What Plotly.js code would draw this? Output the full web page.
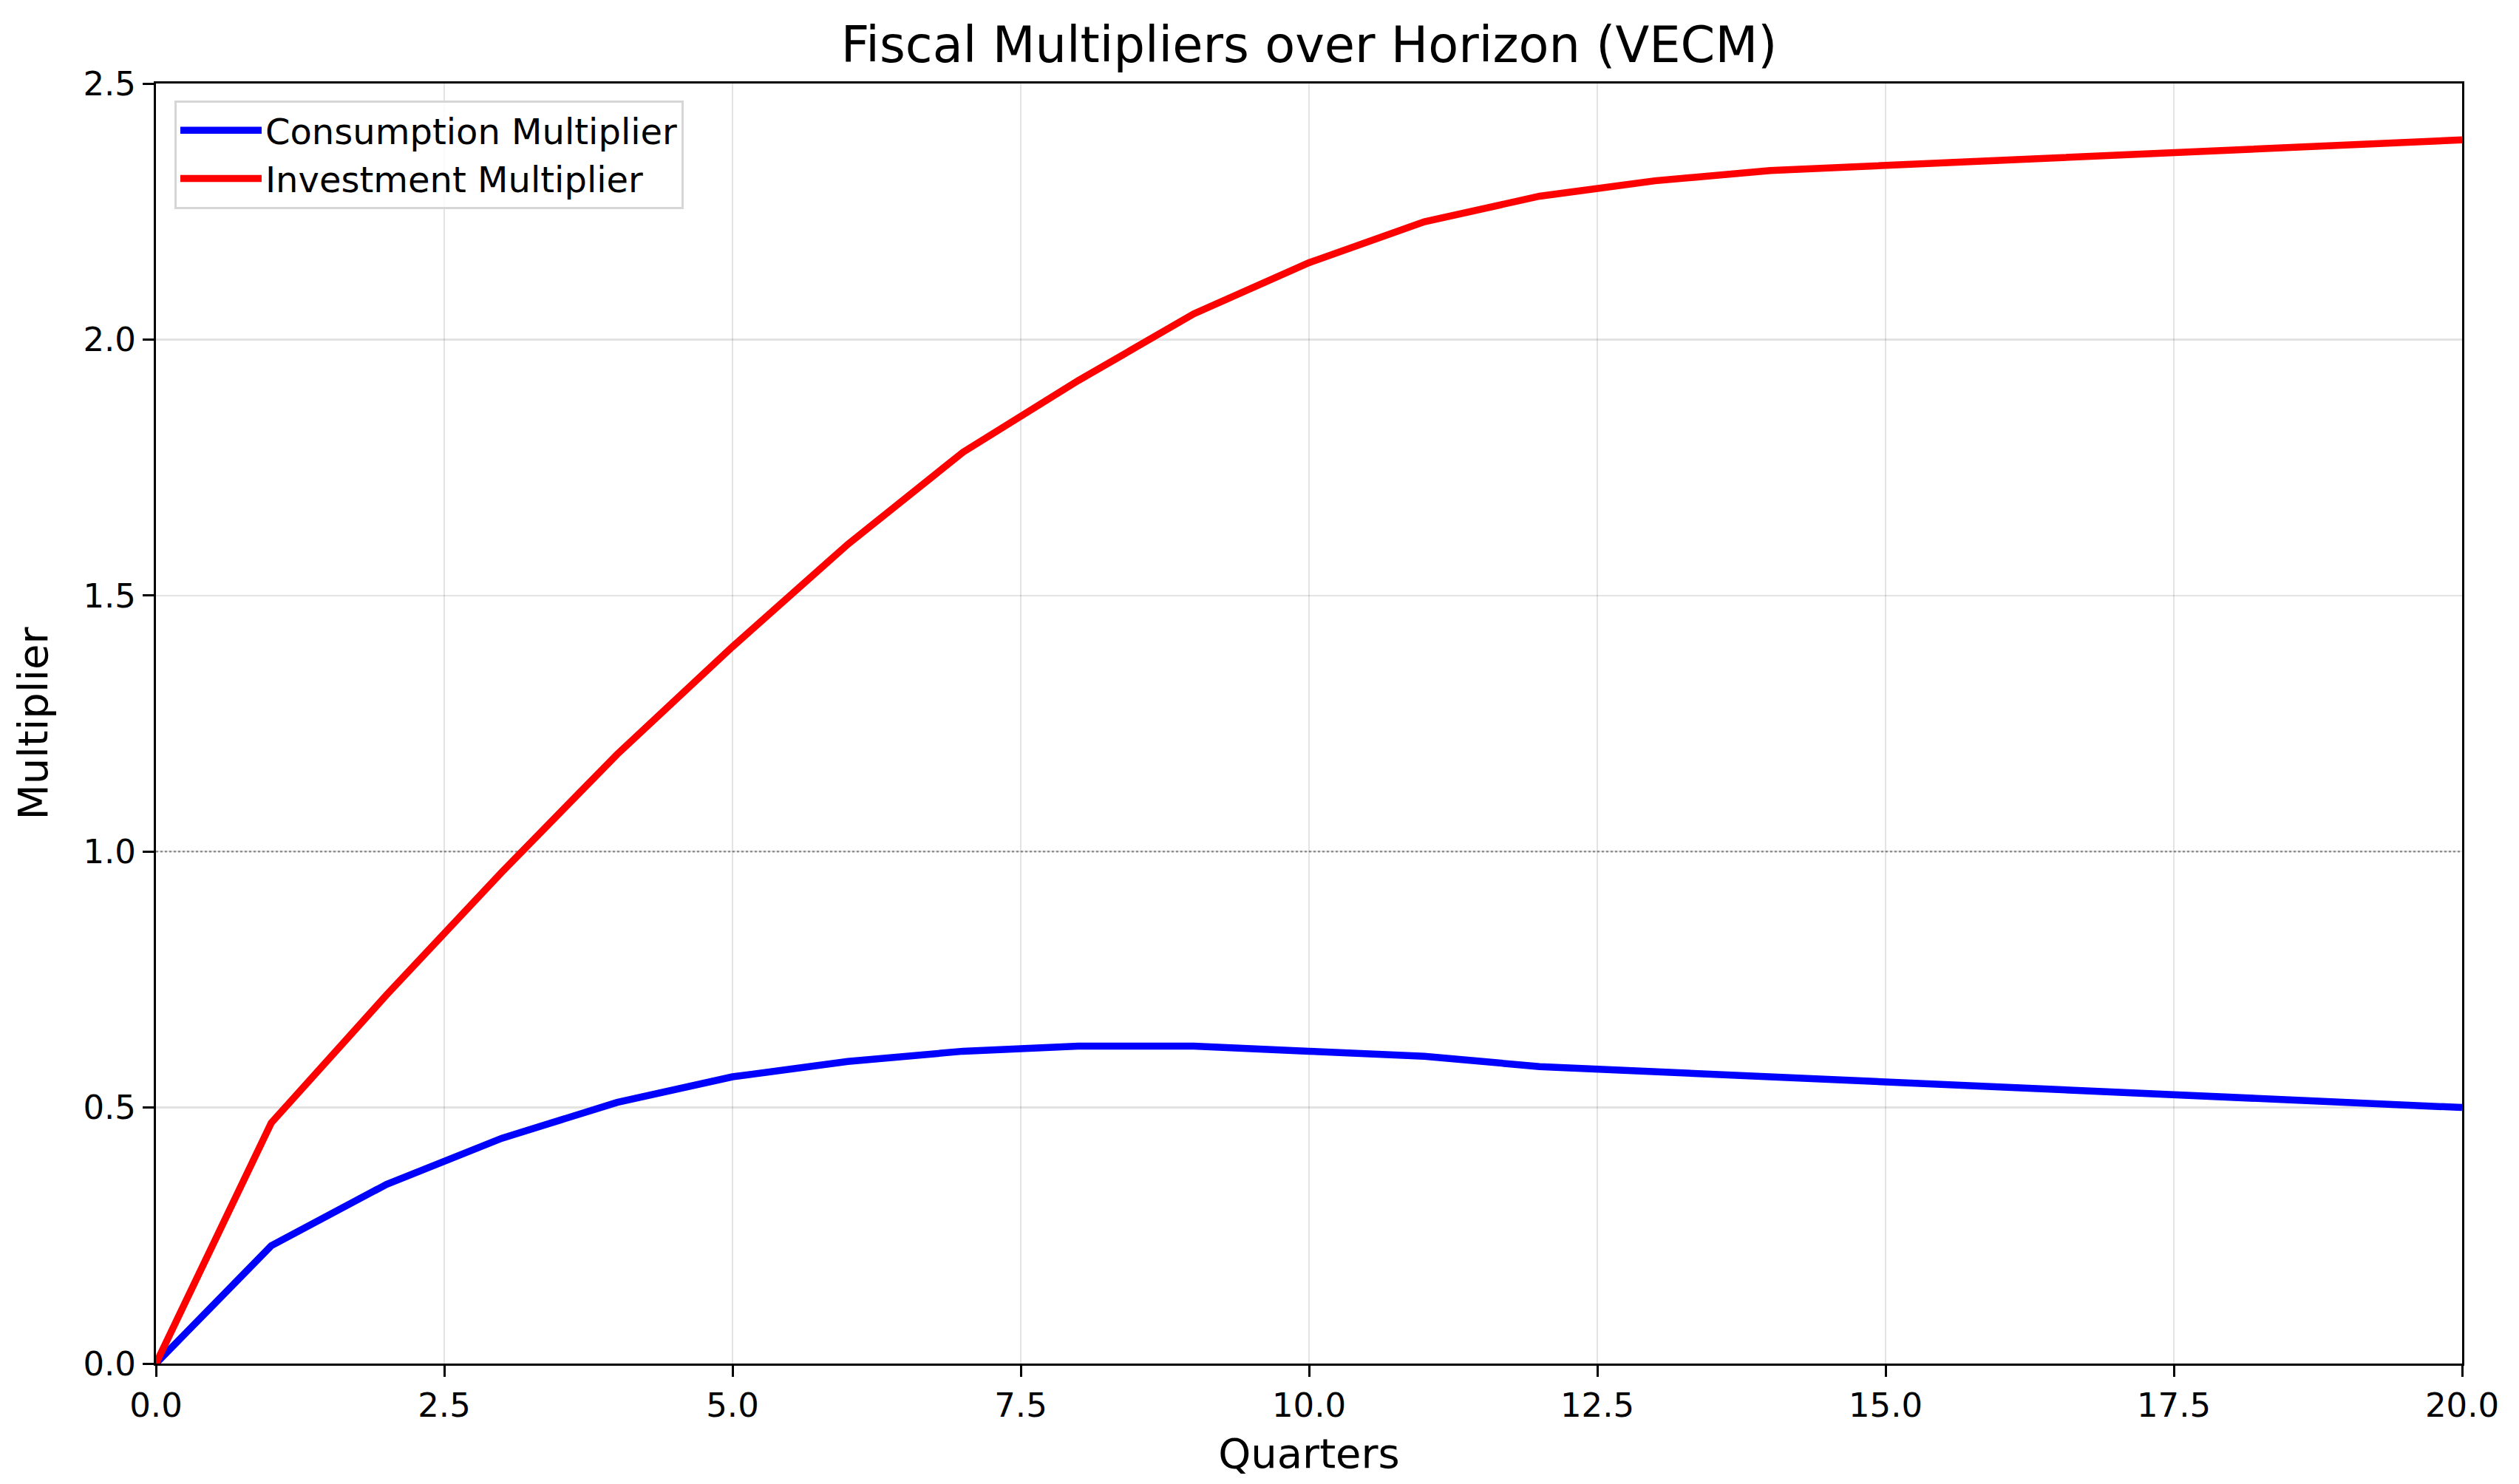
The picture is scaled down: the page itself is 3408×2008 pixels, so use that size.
<!DOCTYPE html>
<html>
<head>
<meta charset="utf-8">
<script src="https://cdn.plot.ly/plotly-3.0.1.min.js"></script>
<style>html,body{margin:0;padding:0;background:#fff;}</style>
</head>
<body>
<div id="chart" style="width:3408px;height:2008px;"></div>
<script>
const quarters = [0,1,2,3,4,5,6,7,8,9,10,11,12,13,14,15,16,17,18,19,20];
const consumptionMultiplier = [0.00,0.23,0.35,0.44,0.51,0.56,0.59,0.61,0.62,0.62,0.61,0.60,0.58,0.57,0.56,0.55,0.54,0.53,0.52,0.51,0.50];
const investmentMultiplier = [0.00,0.47,0.72,0.96,1.19,1.40,1.60,1.78,1.92,2.05,2.15,2.23,2.28,2.31,2.33,2.34,2.35,2.36,2.37,2.38,2.39];
const seriesNames = ["Consumption Multiplier", "Investment Multiplier"];
const referenceLevel = 1.0;

const FONT = "DejaVu Sans, Verdana, sans-serif";

const traces = [
  {x: quarters, y: consumptionMultiplier, name: seriesNames[0], type: "scatter", mode: "lines",
   line: {color: "#0000ff", width: 9.5}},
  {x: quarters, y: investmentMultiplier, name: seriesNames[1], type: "scatter", mode: "lines",
   line: {color: "#ff0000", width: 9.5}}
];

const axisCommon = {
  showline: true, mirror: true, linecolor: "#000", linewidth: 3,
  ticks: "outside", ticklen: 15, tickwidth: 3, tickcolor: "#000",
  showgrid: true, gridcolor: "rgba(0,0,0,0.11)", gridwidth: 2.5,
  zeroline: false, tickfont: {family: FONT, size: 45, color: "#000"},
  tickformat: ".1f"
};

const layout = {
  width: 3408, height: 2008,
  paper_bgcolor: "#fff", plot_bgcolor: "#fff",
  margin: {l: 211, r: 77, t: 113, b: 163},
  font: {family: FONT, color: "#000"},
  title: {text: "Fiscal Multipliers over Horizon (VECM)", font: {family: FONT, size: 67, color: "#000"},
          x: 0.5, xref: "paper", xanchor: "center", y: 0.970, yref: "container", yanchor: "middle"},
  xaxis: Object.assign({}, axisCommon, {
    range: [0, 20], dtick: 2.5, tick0: 0,
    title: {text: "Quarters", font: {family: FONT, size: 56, color: "#000"}, standoff: 20}
  }),
  yaxis: Object.assign({}, axisCommon, {
    range: [0, 2.5], dtick: 0.5, tick0: 0,
    title: {text: "Multiplier", font: {family: FONT, size: 56, color: "#000"}, standoff: 30}
  }),
  legend: {
    x: 0.008, y: 0.987, xanchor: "left", yanchor: "top",
    bgcolor: "rgba(255,255,255,0.85)", bordercolor: "#d6d6d6", borderwidth: 3,
    font: {family: FONT, size: 48, color: "#000"}, tracegroupgap: 0,
    itemwidth: 110
  },
  shapes: [{
    type: "line", xref: "paper", x0: 0, x1: 1, yref: "y", y0: referenceLevel, y1: referenceLevel,
    line: {color: "rgba(120,120,120,0.7)", width: 2.5, dash: "dot"}, layer: "below"
  }],
  showlegend: true
};

Plotly.newPlot("chart", traces, layout, {staticPlot: true, displayModeBar: false});
</script>
</body>
</html>
